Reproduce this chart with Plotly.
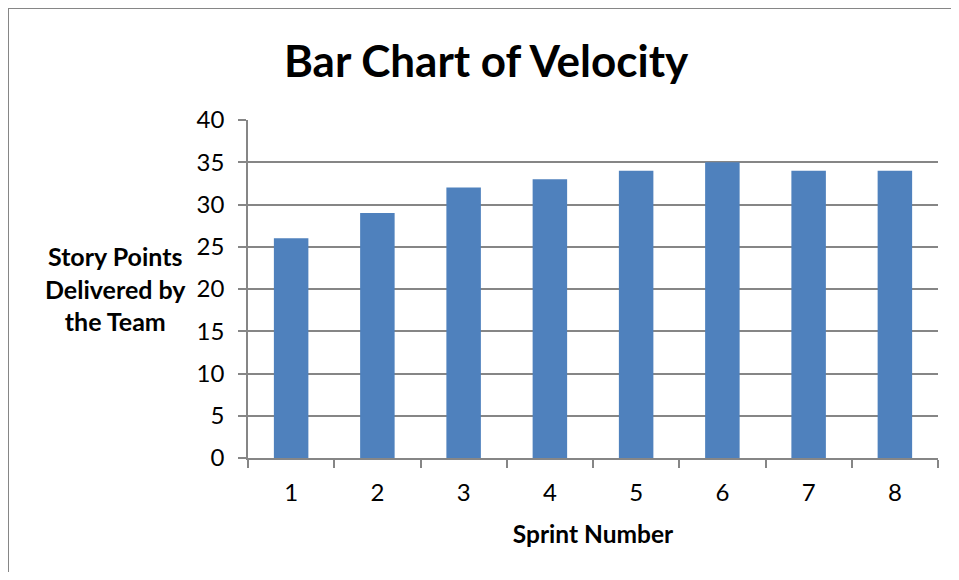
import plotly.graph_objects as go

sprints = ["1", "2", "3", "4", "5", "6", "7", "8"]
velocity = [26, 29, 32, 33, 34, 35, 34, 34]
y_ticks = [0, 5, 10, 15, 20, 25, 30, 35, 40]

# The page adds an 8px body margin, so figure coords = page coords - 8
OFF = 8
W, H = 959 - OFF, 580 - 2 * OFF
L, T = 248 - OFF, 120 - OFF
pw, ph = 690, 338
R = W - L - pw
B = H - T - ph

def px(x):
    return (x - OFF - L) / pw

def py(y):
    return (T + ph - (y - OFF)) / ph

FONT = "Lato"
GRAY = "#868686"

fig = go.Figure(go.Bar(
    x=sprints, y=velocity, width=0.4,
    marker=dict(color="#4F81BD", line=dict(width=0)),
))

fig.update_layout(
    width=W, height=H,
    margin=dict(l=L, r=R, t=T, b=B),
    paper_bgcolor="white", plot_bgcolor="white",
    showlegend=False,
    font=dict(family=FONT, color="black"),
    xaxis=dict(
        type="category", tickson="boundaries", ticks="outside", ticklen=8,
        tickcolor=GRAY, tickwidth=1.5, showline=True, linecolor=GRAY, linewidth=1.5,
        showgrid=False, tickfont=dict(size=24, family=FONT), ticklabelstandoff=12,
        title=dict(text="<b>Sprint Number</b>", font=dict(size=24.5, family=FONT), standoff=21),
    ),
    yaxis=dict(
        range=[0, 40], tickvals=y_ticks, ticks="outside", ticklen=8,
        tickcolor=GRAY, tickwidth=1.5, showline=True, linecolor=GRAY, linewidth=1.5,
        showgrid=True, gridcolor=GRAY, gridwidth=1.5, zeroline=False,
        tickfont=dict(size=24, family=FONT), ticklabelstandoff=9,
    ),
    annotations=[
        dict(text="<b>Bar Chart of Velocity</b>", xref="paper", yref="paper",
             x=px(486), y=py(60), xanchor="center", yanchor="middle",
             showarrow=False, font=dict(size=44, family=FONT)),
        dict(text="<b>Story Points<br>Delivered by<br>the Team</b>", xref="paper", yref="paper",
             x=px(115), y=py(288.5), xanchor="center", yanchor="middle", align="center",
             showarrow=False, font=dict(size=25, family=FONT)),
    ],
    shapes=[
        dict(type="rect", xref="paper", yref="paper", x0=px(8), x1=px(1100), y0=py(8), y1=py(700),
             line=dict(color=GRAY, width=2), fillcolor="rgba(0,0,0,0)", layer="below"),
    ],
)

fig.write_html("out.html", config={"displayModeBar": False})
